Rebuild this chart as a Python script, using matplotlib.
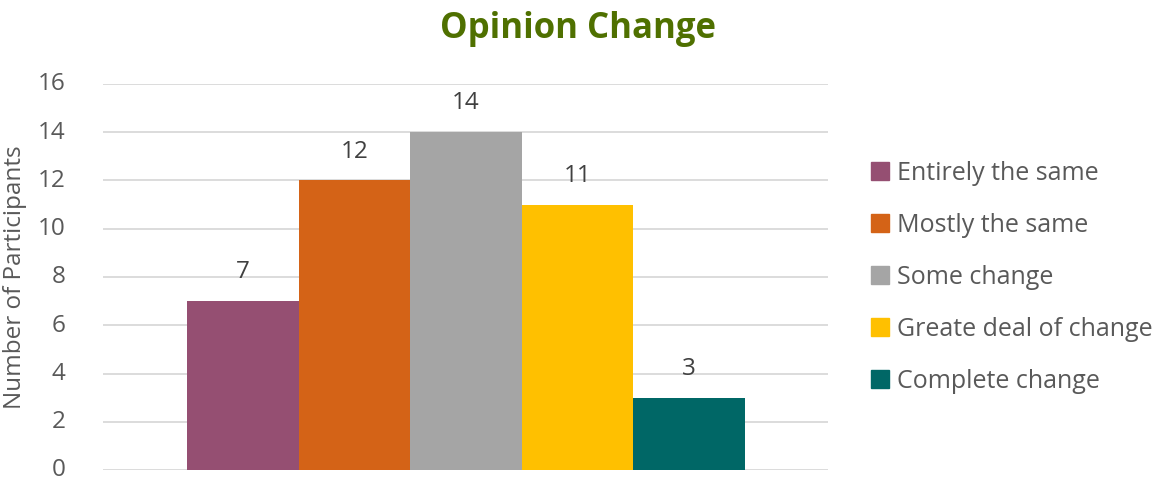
import numpy as np
import matplotlib.pyplot as plt
from matplotlib.patches import Patch
from matplotlib.transforms import ScaledTranslation

categories = ["Entirely the same", "Mostly the same", "Some change",
              "Greate deal of change", "Complete change"]
values = [7, 12, 14, 11, 3]
colors = ["#954F72", "#D46317", "#A5A5A5", "#FFC000", "#006766"]
yticks = [0, 2, 4, 6, 8, 10, 12, 14, 16]

plt.rcParams['font.family'] = ['Open Sans', 'DejaVu Sans']
txt = "#595959"

fig = plt.figure(figsize=(11.63, 4.78), dpi=100)
ax = fig.add_axes([103/1163, 1 - 470/478, 725/1163, 386/478])

x = np.arange(len(values))
bars = ax.bar(x, values, width=1.0, color=colors, zorder=3)
for xi, v in zip(x, values):
    ax.text(xi, v + 0.7, str(v), ha='center', va='bottom', fontsize=17.5, color="#404040")

ax.set_xlim(-1.253, 5.244)
ax.set_ylim(0, 16)
ax.set_yticks(yticks)
ax.set_xticks([])
ax.grid(axis='y', color="#D9D9D9", linewidth=1.3, zorder=0)
for s in ax.spines.values():
    s.set_visible(False)
ax.tick_params(axis='y', length=0, labelsize=17.5, labelcolor=txt, pad=27)
# nudge tick labels up a touch so the bottom "0" is not clipped
shift = ScaledTranslation(0, 2.5/100, fig.dpi_scale_trans)
for lbl in ax.get_yticklabels():
    lbl.set_transform(lbl.get_transform() + shift)
ax.set_ylabel("Number of Participants", fontsize=17.5, color=txt, labelpad=8)

fig.text(0.497, 0.94, "Opinion Change", ha='center', va='center',
         fontsize=25, fontweight='bold', color="#4F7000")

handles = [Patch(color=c, label=l) for c, l in zip(colors, categories)]
fig.legend(handles=handles, loc='center left', bbox_to_anchor=(0.749, 0.42),
           frameon=False, fontsize=18, labelcolor=txt, handlelength=0.7,
           handleheight=0.7, handletextpad=0.35, labelspacing=1.08,
           borderpad=0, borderaxespad=0)

fig.savefig("out.png", dpi=100)
